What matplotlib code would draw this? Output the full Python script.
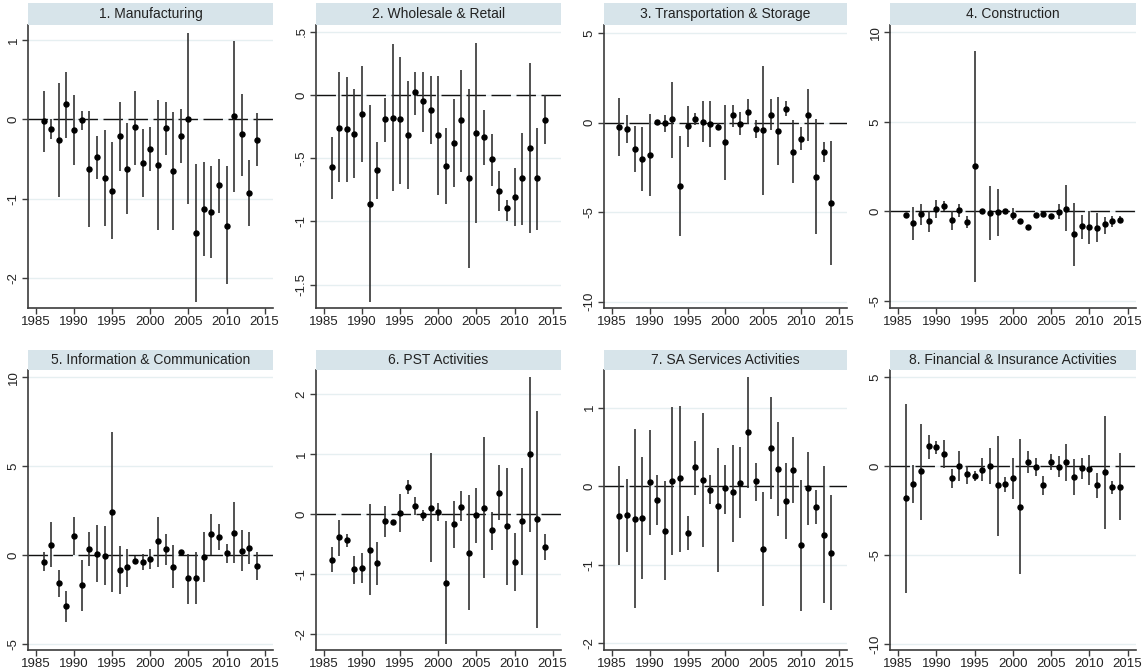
import matplotlib
matplotlib.use("Agg")
import matplotlib.pyplot as plt
import numpy as np

plt.rcParams['font.family'] = ['Liberation Sans', 'DejaVu Sans']

years = np.arange(1986, 2015)

titles = ["1. Manufacturing", "2. Wholesale & Retail", "3. Transportation & Storage",
          "4. Construction", "5. Information & Communication", "6. PST Activities",
          "7. SA Services Activities", "8. Financial & Insurance Activities"]

# point estimates and confidence bounds
manuf_b = [-0.02, -0.12, -0.26, 0.19, -0.13, -0.01, -0.63, -0.48, -0.74, -0.90,
           -0.21, -0.63, -0.10, -0.55, -0.37, -0.58, -0.11, -0.65, -0.21, 0.01,
           -1.43, -1.13, -1.17, -0.83, -1.34, 0.04, -0.19, -0.93, -0.26]
manuf_lo = [-0.41, -0.25, -0.98, -0.23, -0.57, -0.14, -1.36, -0.75, -1.35, -1.51,
            -0.65, -1.20, -0.57, -0.98, -0.65, -1.40, -0.45, -1.40, -0.55, -1.07,
            -2.30, -1.72, -1.75, -1.18, -2.08, -0.92, -0.72, -1.35, -0.59]
manuf_hi = [0.36, 0.0, 0.46, 0.60, 0.31, 0.10, 0.10, -0.21, -0.13, -0.29,
            0.22, -0.05, 0.36, -0.12, -0.10, 0.24, 0.22, 0.09, 0.13, 1.09,
            -0.56, -0.54, -0.59, -0.50, -0.59, 0.99, 0.32, -0.51, 0.08]

whole_b = [-0.57, -0.26, -0.27, -0.31, -0.15, -0.86, -0.59, -0.19, -0.18, -0.19,
           -0.32, 0.02, -0.05, -0.12, -0.32, -0.56, -0.38, -0.20, -0.66, -0.30,
           -0.33, -0.51, -0.76, -0.89, -0.81, -0.66, -0.42, -0.66, -0.20]
whole_lo = [-0.82, -0.69, -0.69, -0.66, -0.53, -1.64, -0.82, -0.37, -0.76, -0.70,
            -0.74, -0.16, -0.29, -0.39, -0.79, -0.86, -0.73, -0.61, -1.37, -1.01,
            -0.55, -0.72, -0.92, -1.00, -1.04, -1.03, -1.09, -1.07, -0.39]
whole_hi = [-0.33, 0.18, 0.14, 0.05, 0.23, -0.08, -0.37, -0.02, 0.40, 0.30,
            0.11, 0.18, 0.18, 0.15, 0.15, -0.26, -0.03, 0.20, 0.05, 0.41,
            -0.12, -0.31, -0.60, -0.83, -0.58, -0.30, 0.25, -0.26, 0.0]

trans_b = [-0.24, -0.37, -1.48, -2.02, -1.80, 0.07, -0.02, 0.19, -3.54, -0.19,
           0.21, 0.06, -0.06, -0.22, -1.07, 0.41, -0.04, 0.62, -0.36, -0.41,
           0.45, -0.47, 0.77, -1.63, -0.92, 0.45, -3.03, -1.63, -4.48]
trans_lo = [-1.85, -1.14, -2.77, -3.80, -4.12, 0.04, -0.49, -1.99, -6.33, -1.33,
            -0.13, -1.07, -1.37, -0.43, -3.22, -0.26, -0.69, -0.09, -0.86, -4.04,
            -0.43, -2.34, 0.36, -3.39, -1.52, -1.03, -6.20, -2.21, -7.98]
trans_hi = [1.39, 0.41, -0.17, -0.24, 0.47, 0.11, 0.41, 2.28, -0.75, 0.96,
            0.54, 1.20, 1.20, 0.0, 1.01, 1.01, 0.62, 1.31, 0.13, 3.20,
            1.31, 1.44, 1.20, 0.13, -0.24, 1.91, 0.19, -1.07, -1.03]

constr_b = [-0.22, -0.65, -0.13, -0.54, 0.11, 0.28, -0.47, 0.06, -0.58, 2.54,
            0.0, -0.07, -0.04, 0.0, -0.17, -0.54, -0.88, -0.22, -0.13, -0.26,
            -0.04, 0.15, -1.25, -0.80, -0.88, -0.91, -0.69, -0.54, -0.45]
constr_lo = [-0.35, -1.59, -0.75, -1.16, -0.37, 0.0, -1.03, -0.32, -0.91, -3.92,
             -0.07, -1.57, -1.38, -0.07, -0.50, -0.65, -0.97, -0.35, -0.22, -0.35,
             -0.41, -1.10, -3.02, -1.53, -1.81, -1.72, -1.25, -0.84, -0.65]
constr_hi = [-0.07, 0.24, 0.43, 0.02, 0.62, 0.58, 0.02, 0.43, -0.28, 8.96,
             0.06, 1.40, 1.27, 0.06, 0.21, -0.45, -0.78, -0.13, -0.04, -0.17,
             0.39, 1.46, 0.47, -0.17, 0.02, -0.09, -0.32, -0.28, -0.28]

info_b = [-0.36, 0.58, -1.59, -2.88, 1.10, -1.68, 0.37, 0.09, -0.02, 2.41,
          -0.82, -0.69, -0.30, -0.37, -0.22, 0.77, 0.32, -0.64, 0.17, -1.31,
          -1.29, -0.09, 1.18, 1.03, 0.11, 1.25, 0.26, 0.43, -0.62]
info_lo = [-0.90, -0.69, -2.34, -3.78, 0.0, -3.12, -0.58, -1.53, -1.68, -2.09,
           -2.21, -1.78, -0.52, -0.84, -0.79, -0.65, -0.56, -1.87, 0.04, -2.75,
           -2.75, -1.53, 0.0, 0.28, -0.43, -0.43, -0.90, -0.52, -1.38]
info_hi = [0.19, 1.85, -0.84, -2.02, 2.15, -0.28, 1.31, 1.72, 1.66, 6.90,
           0.54, 0.37, -0.06, 0.09, 0.36, 2.15, 1.18, 0.56, 0.28, 0.09,
           0.19, 1.31, 2.34, 1.74, 0.65, 2.99, 1.44, 1.31, 0.19]

pst_b = [-0.76, -0.38, -0.43, -0.91, -0.89, -0.59, -0.82, -0.11, -0.13, 0.02,
         0.45, 0.13, -0.02, 0.11, 0.04, -1.14, -0.17, 0.12, -0.64, -0.01,
         0.10, -0.27, 0.36, -0.19, -0.79, -0.12, 1.00, -0.08, -0.54]
pst_lo = [-0.97, -0.69, -0.54, -1.16, -1.14, -1.35, -1.18, -0.38, -0.17, -0.30,
          0.33, -0.01, -0.11, -0.80, -0.11, -2.16, -0.56, -0.12, -1.60, -0.48,
          -1.07, -0.59, -0.09, -1.18, -1.27, -1.02, -0.29, -1.90, -0.76]
pst_hi = [-0.54, -0.09, -0.33, -0.69, -0.65, 0.17, -0.47, 0.14, -0.09, 0.33,
          0.57, 0.28, 0.07, 1.02, 0.19, -0.11, 0.22, 0.38, 0.32, 0.44,
          1.28, 0.04, 0.82, 0.77, -0.32, 0.77, 2.28, 1.72, -0.33]

sa_b = [-0.38, -0.37, -0.42, -0.41, 0.05, -0.18, -0.57, 0.06, 0.10, -0.60,
        0.24, 0.08, -0.05, -0.25, -0.03, -0.08, 0.04, 0.69, 0.06, -0.80,
        0.49, 0.22, -0.19, 0.21, -0.75, -0.03, -0.27, -0.62, -0.85]
sa_lo = [-1.01, -0.84, -1.56, -1.19, -0.62, -0.49, -1.20, -0.88, -0.84, -0.81,
         -0.11, -0.78, -0.23, -1.10, -0.35, -0.71, -0.41, -0.02, -0.19, -1.53,
         -0.16, -0.38, -0.67, -0.21, -1.59, -0.50, -0.48, -1.49, -1.58]
sa_hi = [0.26, 0.09, 0.73, 0.37, 0.71, 0.14, 0.07, 1.01, 1.02, -0.38,
         0.58, 0.93, 0.14, 0.48, 0.27, 0.52, 0.50, 1.39, 0.30, -0.08,
         1.13, 0.82, 0.30, 0.62, 0.08, 0.43, -0.05, 0.25, -0.11]

fin_b = [-1.79, -0.99, -0.30, 1.10, 1.06, 0.69, -0.65, 0.0, -0.47, -0.58,
         -0.21, 0.02, -1.08, -1.01, -0.65, -2.29, 0.22, -0.06, -1.08, 0.22,
         -0.06, 0.22, -0.63, -0.11, -0.19, -1.08, -0.35, -1.18, -1.16]
fin_lo = [-7.11, -2.05, -3.00, 0.41, 0.67, -0.11, -1.21, -0.84, -0.99, -0.86,
          -0.86, -0.99, -3.90, -1.46, -1.83, -6.03, -0.39, -0.56, -1.64, -0.21,
          -0.62, -0.86, -1.64, -0.71, -1.04, -1.79, -3.51, -1.55, -3.00]
fin_hi = [3.49, 0.07, 2.37, 1.77, 1.42, 1.47, -0.15, 0.82, -0.02, -0.30,
          0.47, 0.99, 1.70, -0.62, 0.47, 1.53, 0.82, 0.47, -0.58, 0.65,
          0.54, 1.25, 0.41, 0.47, 0.63, -0.39, 2.80, -0.86, 0.73]

panels = [(manuf_b, manuf_lo, manuf_hi), (whole_b, whole_lo, whole_hi),
          (trans_b, trans_lo, trans_hi), (constr_b, constr_lo, constr_hi),
          (info_b, info_lo, info_hi), (pst_b, pst_lo, pst_hi),
          (sa_b, sa_lo, sa_hi), (fin_b, fin_lo, fin_hi)]

yticks = [[-2, -1, 0, 1], [-1.5, -1, -0.5, 0, 0.5], [-10, -5, 0, 5], [-5, 0, 5, 10],
          [-5, 0, 5, 10], [-2, -1, 0, 1, 2], [-2, -1, 0, 1], [-10, -5, 0, 5]]
ylims = [(-2.38, 1.19), (-1.685, 0.554), (-10.36, 5.47), (-5.39, 10.41),
         (-5.33, 10.41), (-2.26, 2.40), (-2.09, 1.48), (-10.32, 5.39)]


def stata_fmt(v):
    s = f"{v:g}"
    return s.replace("0.", ".")


W, H = 1143, 672
fig = plt.figure(figsize=(W / 100, H / 100), dpi=100)

lefts = [28, 316, 604, 890]
rights = [273, 561, 847, 1136]
rows = [(3, 25, 308), (350, 370, 650)]   # strip top, axes top, axes bottom

strip_col = '#d7e4ea'
grid_col = '#e6eff1'
spine_col = '#3c3c3c'

for i in range(8):
    r, c = divmod(i, 4)
    s_top, a_top, a_bot = rows[r]
    x0, x1 = lefts[c], rights[c]

    ax = fig.add_axes([x0 / W, 1 - a_bot / H, (x1 - x0) / W, (a_bot - a_top) / H])
    b, lo, hi = panels[i]
    b = np.array(b); lo = np.array(lo); hi = np.array(hi)

    ax.axhline(0, color='#111111', lw=1.0, dashes=(14, 4), zorder=1)
    ax.vlines(years, lo, hi, color='#333333', lw=1.2, zorder=2)
    ax.plot(years, b, 'o', color='black', ms=3.6, zorder=3)

    ax.set_xlim(1983.95, 2016.1)
    ax.set_ylim(*ylims[i])
    ax.set_xticks(range(1985, 2016, 5))
    ax.set_yticks(yticks[i])
    ax.set_yticklabels([stata_fmt(v) for v in yticks[i]], rotation=90, va='center')
    ax.yaxis.grid(True, color=grid_col, lw=1.0)
    ax.set_axisbelow(True)
    for sp in ['top', 'right']:
        ax.spines[sp].set_visible(False)
    for sp in ['left', 'bottom']:
        ax.spines[sp].set_color(spine_col)
        ax.spines[sp].set_linewidth(1.2)
    ax.tick_params(axis='both', labelsize=9.5, color=spine_col, length=4, width=1,
                   labelcolor='#222222')
    ax.tick_params(axis='x', pad=2)
    ax.tick_params(axis='y', pad=2)

    # title strip
    sax = fig.add_axes([x0 / W, 1 - a_top / H, (x1 - x0) / W, (a_top - s_top) / H])
    sax.set_facecolor(strip_col)
    sax.set_xticks([]); sax.set_yticks([])
    for sp in sax.spines.values():
        sp.set_visible(False)
    sax.text(0.5, 0.5, titles[i], ha='center', va='center', fontsize=10,
             color='#222222', transform=sax.transAxes)

fig.savefig('out.png', dpi=100, facecolor='white')
